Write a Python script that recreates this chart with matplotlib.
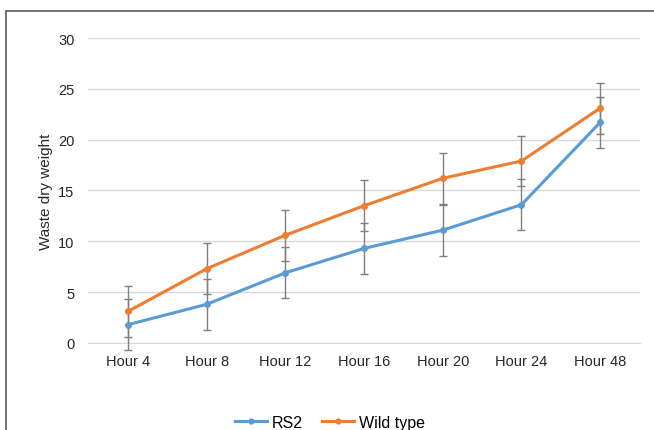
import matplotlib.pyplot as plt
from matplotlib.patches import Rectangle
from matplotlib.lines import Line2D

plt.rcParams['font.family'] = ['Liberation Sans', 'DejaVu Sans']

# Data
hours = ['Hour 4', 'Hour 8', 'Hour 12', 'Hour 16', 'Hour 20', 'Hour 24', 'Hour 48']
rs2 = [1.8, 3.8, 6.9, 9.3, 11.1, 13.6, 21.7]
wild_type = [3.1, 7.3, 10.6, 13.5, 16.2, 17.9, 23.1]
rs2_err = [2.5, 2.5, 2.5, 2.5, 2.5, 2.5, 2.5]
wild_err = [2.5, 2.5, 2.5, 2.5, 2.5, 2.5, 2.5]

fig = plt.figure(figsize=(6.54, 4.31), dpi=100)
ax = fig.add_axes([0.1353, 0.2019, 0.8426, 0.7076])

x = range(len(hours))
blue = '#5B9BD5'
orange = '#ED7D31'

handles = []
for vals, err, col, lab in [(rs2, rs2_err, blue, 'RS2'), (wild_type, wild_err, orange, 'Wild type')]:
    ax.errorbar(x, vals, yerr=err, color=col, lw=2.2, marker='o', ms=4,
                ecolor='#7F7F7F', elinewidth=1, capsize=3, capthick=1,
                clip_on=False, zorder=3)
    handles.append(Line2D([], [], color=col, lw=2.2, marker='o', ms=3.5, label=lab))

ax.set_xlim(-0.5, len(hours) - 0.5)
ax.set_ylim(0, 30)
ax.set_yticks(range(0, 31, 5))
ax.set_xticks(list(x))
ax.set_xticklabels(hours)
ax.grid(axis='y', color='#D9D9D9', lw=1)
ax.set_axisbelow(True)
for s in ['top', 'right', 'left']:
    ax.spines[s].set_visible(False)
ax.spines['bottom'].set_color('#D9D9D9')
ax.tick_params(length=0, labelsize=10.5, colors='#262626', pad=8)
ax.tick_params(axis='y', pad=10)
ax.set_ylabel('Waste dry weight', fontsize=11, color='#262626', labelpad=4)

fig.legend(handles=handles, loc='center', bbox_to_anchor=(0.505, 0.018), ncol=2, frameon=False,
           fontsize=11.5, handlelength=2.0, columnspacing=1.2, handletextpad=0.3)

# outer chart border
fig.patches.append(Rectangle((6 / 654, -0.1), 1.0, 1 - 12 / 431 + 0.1, transform=fig.transFigure,
                             fill=False, edgecolor='#595959', lw=1.2))

fig.savefig('out.png', dpi=100)
